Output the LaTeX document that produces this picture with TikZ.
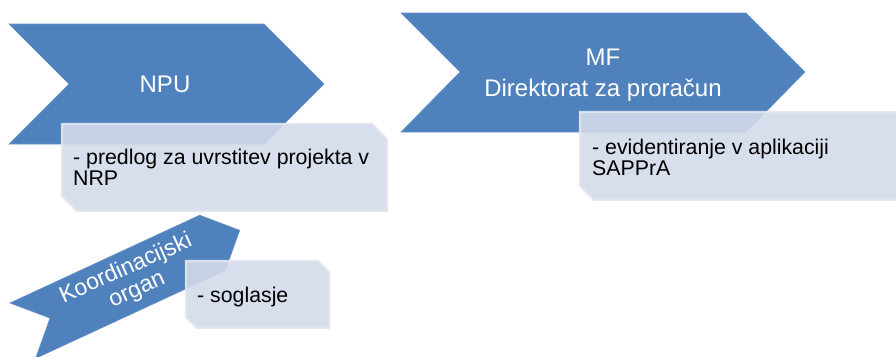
\documentclass[tikz,border=0pt]{standalone}
\usepackage{fontspec}
\setmainfont{Liberation Sans}
\definecolor{chev}{HTML}{4F81BD}
\definecolor{boxfill}{HTML}{D3DAEA}
\definecolor{boxline}{HTML}{E2E6F0}
\tikzset{
  chevshape/.style={fill=chev, draw=chev!85!white, line width=0.6pt},
  notebox/.style={fill=boxfill, draw=boxline, line width=2.4pt, opacity=0.9},
  chevtext/.style={text=white, font=\fontsize{24}{28}\selectfont, align=center, inner sep=0pt},
  boxtext/.style={text=black, font=\fontsize{21.3}{21.3}\selectfont, align=left, inner sep=0pt, anchor=west}
}
\begin{document}
\begin{tikzpicture}[x=1pt,y=-1pt]
\useasboundingbox (0,0) rectangle (896,356);
\clip (0,0) rectangle (896,356);
% chevrons
\draw[chevshape] (9,24) -- (264,24) -- (324,84) -- (264,144) -- (9,144) -- (69,84) -- cycle;
\draw[chevshape] (401,13) -- (746,13) -- (805,72) -- (746,132) -- (401,132) -- (460,72) -- cycle;
\draw[chevshape] (10,303) -- (199.6,215.2) -- (239.7,230.3) -- (225.2,270.6) -- (35.6,358.4) -- (50,318.1) -- cycle;
% chevron texts
\node[chevtext] (npu) at (165,84) {NPU};
\node[chevtext] (mf) at (603,57) {MF};
\node[chevtext] (dir) at (603,90) {Direktorat za proračun};
\node[chevtext, font=\fontsize{23}{27}\selectfont, rotate=24] (koord) at (126,269) {Koordinacijski};
\node[chevtext, font=\fontsize{23}{27}\selectfont, rotate=24] (organ) at (138,292) {organ};
% boxes
\draw[notebox] (62,124) -- (372,124) -- (387,139) -- (387,211) -- (77,211) -- (62,196) -- cycle;
\draw[notebox] (580,112) -- (898,112) -- (912,126) -- (912,200) -- (594,200) -- (580,186) -- cycle;
\draw[notebox] (186,261) -- (318,261) -- (329,272) -- (329,328) -- (197,328) -- (186,317) -- cycle;
% box texts
\node[boxtext] (t1) at (73,167.5) {- predlog za uvrstitev projekta v\\NRP};
\node[boxtext] (t2) at (592,157.5) {- evidentiranje v aplikaciji\\SAPPrA};
\node[boxtext] (t3) at (197,297) {- soglasje};
\end{tikzpicture}
\end{document}
